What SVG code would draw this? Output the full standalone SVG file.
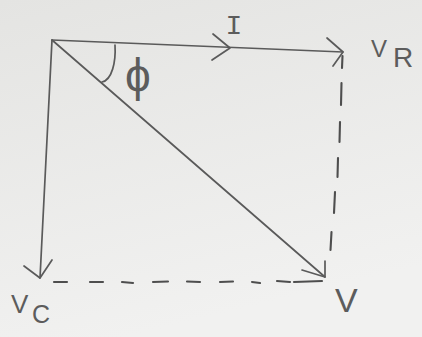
<svg xmlns="http://www.w3.org/2000/svg" width="422" height="337" viewBox="0 0 422 337">
  <defs>
    <linearGradient id="paper" x1="0" y1="0" x2="0.3" y2="1">
      <stop offset="0" stop-color="#e4e4e2"/>
      <stop offset="1" stop-color="#f1f1f0"/>
    </linearGradient>
    <style>
      .ln { fill: none; stroke: #5a5a5a; stroke-width: 1.7; stroke-linecap: round; stroke-linejoin: round; }
      .dash { fill: none; stroke: #4e4e4e; stroke-width: 2.1; stroke-linecap: round; }
      .lbl { font-family: "Liberation Sans", Arial, sans-serif; fill: #5c5c5c; }
    </style>
  </defs>
  <rect width="422" height="337" fill="url(#paper)"/>

  <g id="connectors">
    <!-- I / VR phasor -->
    <path class="ln" d="M52,40 L343,52"/>
    <path class="ln" d="M213,34 L230,48 L212,60"/>
    <path class="ln" d="M327,38 L343,52 L333,66"/>
    <!-- Vc phasor -->
    <path class="ln" d="M52,40 L40,278"/>
    <path class="ln" d="M24,266 L40,278 L52,260"/>
    <!-- V phasor -->
    <path class="ln" d="M52,40 L325,277"/>
    <path class="ln" d="M325,261 L325,277 L302,270"/>
    <!-- angle arc -->
    <path class="ln" d="M115,45 C116,62 112,80 102,82"/>
    <!-- dashed projections -->
    <g id="dash-vertical">
      <path class="dash" d="M342.5,56 L342,68"/>
      <path class="dash" d="M341.5,83 L341,105"/>
      <path class="dash" d="M340,122 L339.5,142"/>
      <path class="dash" d="M338,158 L337.5,177"/>
      <path class="dash" d="M335,192 L334,213"/>
      <path class="dash" d="M331.5,232 L330.5,250"/>
    </g>
    <g id="dash-horizontal">
      <path class="dash" d="M54,282 L67,282"/>
      <path class="dash" d="M90,282 L103,282"/>
      <path class="dash" d="M122,282 L133,283"/>
      <path class="dash" d="M153,282 L168,281.5"/>
      <path class="dash" d="M187,281.5 L200,282"/>
      <path class="dash" d="M220,282 L233,281.5"/>
      <path class="dash" d="M252,282 L260,283"/>
      <path class="dash" d="M277,281 L290,282"/>
      <path class="dash" d="M294,282 L322,281"/>
    </g>
  </g>

  <g id="label-I"><text class="lbl" x="234" y="34" font-size="28" text-anchor="middle" style="font-family:'Liberation Mono',monospace">I</text></g>
  <g id="label-phi"><text class="lbl" x="138" y="91" font-size="46" text-anchor="middle">ϕ</text></g>
  <g id="label-VR"><text class="lbl" x="371" y="57" font-size="24">V<tspan x="393" y="67" font-size="28">R</tspan></text></g>
  <g id="label-VC"><text class="lbl" x="11" y="313" font-size="26">V<tspan x="32" y="323" font-size="25">C</tspan></text></g>
  <g id="label-V"><text class="lbl" x="335" y="312" font-size="34">V</text></g>
</svg>
